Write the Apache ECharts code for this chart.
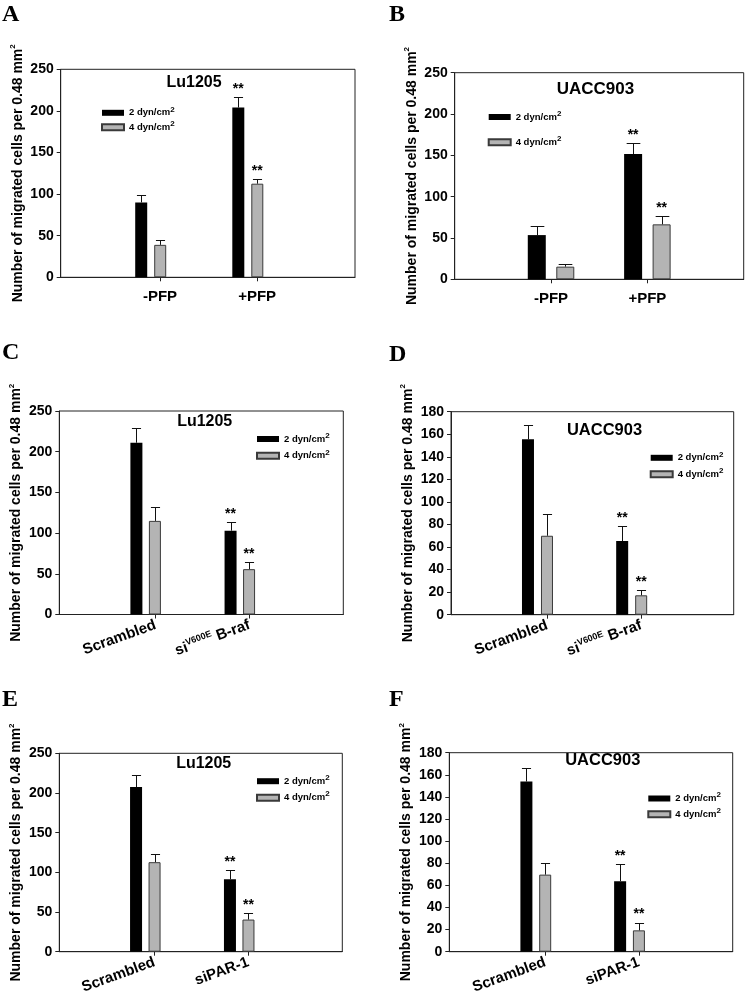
<!DOCTYPE html>
<html><head><meta charset="utf-8">
<script src="https://cdn.jsdelivr.net/npm/echarts@6/dist/echarts.min.js"></script>
<style>html,body{margin:0;padding:0;background:#fff}#c{width:745px;height:996px}</style>
</head><body><div id="c"></div>
<script>
// ---------- data ----------
const groupPos = [1, 2];
const catsPFP = ['-PFP', '+PFP'];
const catsBraf = ['Scrambled', 'siV600E B-raf'];
const catsPAR = ['Scrambled', 'siPAR-1'];
const seriesNames = ['2 dyn/cm2', '4 dyn/cm2'];
const ticks250 = [0, 50, 100, 150, 200, 250];
const ticks180 = [0, 20, 40, 60, 80, 100, 120, 140, 160, 180];

// A: Lu1205, PFP
const aMean2 = [90, 204],    aErr2 = [8.5, 12.5];
const aMean4 = [39, 112.5],  aErr4 = [5.7, 6];
// B: UACC903, PFP
const bMean2 = [53.5, 151.5], bErr2 = [11.4, 13.4];
const bMean4 = [15.3, 66.5],  bErr4 = [2.8, 9.7];
// C: Lu1205, siV600E B-raf
const cMean2 = [211, 103],   cErr2 = [18.5, 10.3];
const cMean4 = [115, 55.7],  cErr4 = [17.6, 9];
// D: UACC903, siV600E B-raf
const dMean2 = [155.5, 65.3], dErr2 = [12.9, 13.6];
const dMean4 = [70, 17.2],    dErr4 = [19.3, 4.4];
// E: Lu1205, siPAR-1
const eMean2 = [207.4, 91.3], eErr2 = [14.9, 11.2];
const eMean4 = [112.8, 40.5], eErr4 = [10.3, 8.7];
// F: UACC903, siPAR-1
const fMean2 = [153.9, 63.8], fErr2 = [12.2, 15.1];
const fMean4 = [69.7, 19.3],  fErr4 = [10.1, 7.1];
// significance marks (**)
const sigMarks = [false, true];

// ---------- layout ----------
const FONT = 'Liberation Sans, Arial, sans-serif';
const panels = [
  {letter:'A', title:'Lu1205', cats:catsPFP, m2:aMean2, e2:aErr2, m4:aMean4, e4:aErr4, ticks:ticks250,
   grid:{left:60.7, top:69.3, width:294.3, height:208}, xMin:0.073, xMax:3.104, bw:12, gap:7, tickShift:0.096, rotate:0,
   legend:{left:101, top:105.3, gap:2}, titlePos:[194, 82.7], titleSize:16, letterPos:[2, 22]},
  {letter:'B', title:'UACC903', cats:catsPFP, m2:bMean2, e2:bErr2, m4:bMean4, e4:bErr4, ticks:ticks250,
   grid:{left:454.7, top:72.7, width:289, height:206.6}, xMin:0, xMax:3, bw:18, gap:10.5, tickShift:0, rotate:0,
   legend:{left:487.7, top:109.5, gap:12.7}, titlePos:[595.5, 89.3], titleSize:17, letterPos:[389, 22]},
  {letter:'C', title:'Lu1205', cats:catsBraf, m2:cMean2, e2:cErr2, m4:cMean4, e4:cErr4, ticks:ticks250,
   grid:{left:59.3, top:411, width:284, height:203.5}, xMin:0.083, xMax:3.099, bw:12, gap:6.5, tickShift:0.104, rotate:20,
   legend:{left:256, top:431.5, gap:4.3}, titlePos:[204.7, 421.7], titleSize:16, letterPos:[2, 360]},
  {letter:'D', title:'UACC903', cats:catsBraf, m2:dMean2, e2:dErr2, m4:dMean4, e4:dErr4, ticks:ticks180,
   grid:{left:451, top:411.7, width:282.7, height:203}, xMin:0.082, xMax:3.083, bw:12, gap:7, tickShift:0.103, rotate:20,
   legend:{left:649.7, top:450.3, gap:4}, titlePos:[604.5, 430], titleSize:16.5, letterPos:[389, 362]},
  {letter:'E', title:'Lu1205', cats:catsPAR, m2:eMean2, e2:eErr2, m4:eMean4, e4:eErr4, ticks:ticks250,
   grid:{left:59.3, top:753.3, width:283, height:201.7}, xMin:0.084, xMax:3.098, bw:12, gap:6.5, tickShift:0.098, rotate:20,
   legend:{left:256, top:773.7, gap:4}, titlePos:[203.7, 764], titleSize:16, letterPos:[2, 707]},
  {letter:'F', title:'UACC903', cats:catsPAR, m2:fMean2, e2:fErr2, m4:fMean4, e4:fErr4, ticks:ticks180,
   grid:{left:449.3, top:752.7, width:283.4, height:202.3}, xMin:0.077, xMax:3.101, bw:12, gap:6.8, tickShift:0.101, rotate:20,
   legend:{left:647.3, top:791, gap:3.3}, titlePos:[602.8, 760], titleSize:16.5, letterPos:[389, 707]}
];

function catLabel(name) {
  const m = name.match(/^si(V600E) (.*)$/);
  if (m) return '{n|si}{sup|' + m[1] + '}{n| ' + m[2] + '}';
  return '{n|' + name + '}';
}

const option = {
  animation: false,
  backgroundColor: '#fff',
  grid: [], xAxis: [], yAxis: [], series: [], legend: [], graphic: []
};

panels.forEach((p, i) => {
  option.grid.push(Object.assign({show:true, borderColor:'#222', borderWidth:1, backgroundColor:'transparent', containLabel:false}, p.grid));
  const tickVals = groupPos.map(v => v + p.tickShift);
  option.xAxis.push({
    type:'value', gridIndex:i, min:p.xMin, max:p.xMax,
    axisLine:{show:true, lineStyle:{color:'#222', width:1}},
    splitLine:{show:false},
    axisTick:{show:true, customValues:tickVals, length:4, inside:false, lineStyle:{color:'#222', width:1}},
    axisLabel:{
      customValues:tickVals, margin: p.rotate ? 10 : 12, rotate:p.rotate,
      formatter: v => {
        const idx = Math.round(v - p.tickShift) - 1;
        return catLabel(p.cats[idx] || '');
      },
      rich:{
        n:{fontFamily:FONT, fontWeight:'bold', fontSize:15, color:'#000'},
        sup:{fontFamily:FONT, fontWeight:'bold', fontSize:9, color:'#000', padding:[0,0,9,0]}
      }
    }
  });
  option.yAxis.push({
    type:'value', gridIndex:i, min:0, max:p.ticks[p.ticks.length-1], interval:p.ticks[1]-p.ticks[0],
    axisLine:{show:true, lineStyle:{color:'#222', width:1}},
    splitLine:{show:false},
    axisTick:{show:true, length:4, lineStyle:{color:'#222'}},
    axisLabel:{fontFamily:FONT, fontWeight:'bold', fontSize:14, color:'#000', margin:7},
    name:'{a|Number of migrated cells per 0.48 mm}{s|2}',
    nameLocation:'middle', nameGap:34,
    nameTextStyle:{
      rich:{
        a:{fontFamily:FONT, fontWeight:'bold', fontSize:14, color:'#000'},
        s:{fontFamily:FONT, fontWeight:'bold', fontSize:8, color:'#000', padding:[0,0,10,0]}
      }
    }
  });
  const levels = [
    {name:seriesNames[0], m:p.m2, e:p.e2, color:'#000', border:'#000', off:-(p.bw + p.gap)/2},
    {name:seriesNames[1], m:p.m4, e:p.e4, color:'#b4b4b4', border:'#3a3a3a', off:(p.bw + p.gap)/2}
  ];
  levels.forEach(l => {
    option.series.push({
      type:'bar', name:l.name, xAxisIndex:i, yAxisIndex:i,
      data: groupPos.map((x, j) => [x, l.m[j]]),
      barWidth:p.bw, barGap:(p.gap / p.bw * 100) + '%',
      itemStyle:{color:l.color, borderColor:l.border, borderWidth: l.color === '#000' ? 0 : 1},
      z:2
    });
  });
  levels.forEach((l, k) => {
    option.series.push({
      type:'custom', name:'err' + i + '_' + k, xAxisIndex:i, yAxisIndex:i, z:3,
      data: groupPos.map((x, j) => [x, l.m[j], l.m[j] + l.e[j], sigMarks[j] ? 1 : 0]),
      renderItem:(params, api) => {
        const x = api.value(0);
        const p0 = api.coord([x, api.value(1)]);
        const p1 = api.coord([x, api.value(2)]);
        const cx = Math.round(p0[0] + l.off) + 0.5;
        const ty = Math.round(p1[1]) + 0.5;
        const cw = p.bw * 0.38;
        const children = [
          {type:'line', shape:{x1:cx, y1:p0[1], x2:cx, y2:ty}, style:{stroke:'#111', lineWidth:1}},
          {type:'line', shape:{x1:cx - cw, y1:ty, x2:cx + cw, y2:ty}, style:{stroke:'#111', lineWidth:1}}
        ];
        if (api.value(3) === 1) {
          children.push({type:'text', x:p0[0] + l.off, y:p1[1] - 1,
            style:{text:'**', fontFamily:FONT, fontWeight:'bold', fontSize:14, fill:'#000', align:'center', verticalAlign:'bottom'}});
        }
        return {type:'group', children:children};
      }
    });
  });
  option.legend.push({
    orient:'vertical', left:p.legend.left, top:p.legend.top, padding:0, itemGap:p.legend.gap,
    itemWidth:22, itemHeight:6, icon:'rect', selectedMode:false, data:seriesNames,
    formatter: n => '{t|' + n.slice(0, -1) + '}{s|' + n.slice(-1) + '}',
    textStyle:{
      rich:{
        t:{fontFamily:FONT, fontWeight:'bold', fontSize:9.5, color:'#000', lineHeight:12},
        s:{fontFamily:FONT, fontWeight:'bold', fontSize:8, color:'#000', padding:[0,0,7,0]}
      }
    }
  });
  option.graphic.push({type:'text', x:p.letterPos[0], y:p.letterPos[1] + 5, z:10,
    style:{text:p.letter, fontFamily:'Liberation Serif, Times New Roman, serif', fontWeight:'bold', fontSize:24, fill:'#000', align:'left', verticalAlign:'bottom'}});
  option.graphic.push({type:'text', x:p.titlePos[0], y:p.titlePos[1], z:10,
    style:{text:p.title, fontFamily:FONT, fontWeight:'bold', fontSize:p.titleSize, fill:'#000', align:'center', verticalAlign:'middle'}});
});

const chart = echarts.init(document.getElementById('c'), null, {renderer:'canvas'});
chart.setOption(option);
</script>
</body></html>
